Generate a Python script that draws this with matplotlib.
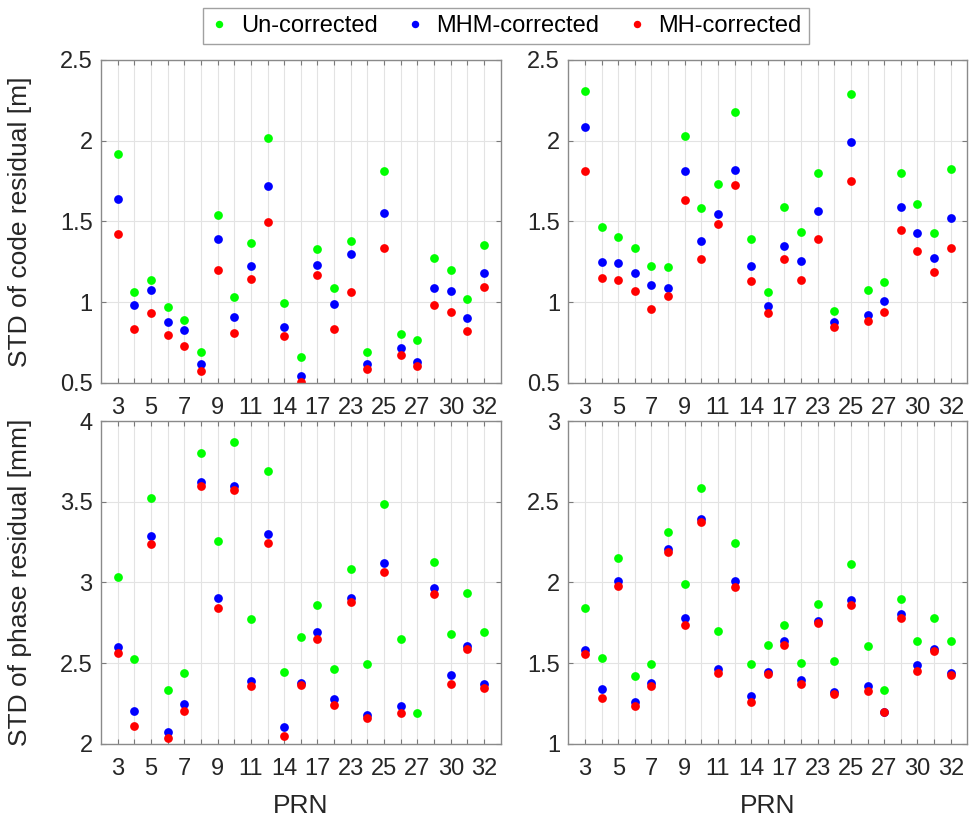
import matplotlib.pyplot as plt
import numpy as np
from matplotlib.ticker import FormatStrFormatter

plt.rcParams['font.family'] = ['Liberation Sans', 'DejaVu Sans']

# satellite list (only every other PRN is labelled on the axis)
prn = [3, 4, 5, 6, 7, 8, 9, 10, 11, 12, 14, 15, 17, 19, 23, 24, 25, 26, 27, 29, 30, 31, 32]
prn_labels = ['3', '5', '7', '9', '11', '14', '17', '23', '25', '27', '30', '32']

# code residual STD [m], panel 1
code1_un = [1.919, 1.064, 1.136, 0.967, 0.890, 0.692, 1.541, 1.033, 1.366, 2.017, 0.996, 0.659,
            1.331, 1.087, 1.376, 0.692, 1.812, 0.804, 0.767, 1.275, 1.198, 1.021, 1.353]
code1_mhm = [1.640, 0.979, 1.076, 0.874, 0.829, 0.614, 1.390, 0.907, 1.223, 1.721, 0.845, 0.541,
             1.231, 0.988, 1.295, 0.614, 1.550, 0.715, 0.626, 1.085, 1.068, 0.899, 1.182]
code1_mh = [1.419, 0.833, 0.932, 0.793, 0.727, 0.572, 1.200, 0.810, 1.145, 1.494, 0.791, 0.502,
            1.167, 0.831, 1.064, 0.583, 1.337, 0.669, 0.603, 0.983, 0.936, 0.818, 1.095]

# code residual STD [m], panel 2
code2_un = [2.310, 1.463, 1.403, 1.335, 1.221, 1.217, 2.031, 1.583, 1.729, 2.176, 1.390, 1.060,
            1.591, 1.434, 1.802, 0.944, 2.289, 1.074, 1.126, 1.802, 1.607, 1.430, 1.824]
code2_mhm = [2.087, 1.248, 1.242, 1.182, 1.105, 1.089, 1.810, 1.380, 1.545, 1.820, 1.225, 0.975,
             1.349, 1.256, 1.566, 0.874, 1.992, 0.917, 1.006, 1.587, 1.426, 1.275, 1.519]
code2_mh = [1.814, 1.147, 1.138, 1.070, 0.955, 1.037, 1.634, 1.269, 1.481, 1.727, 1.130, 0.932,
            1.264, 1.134, 1.390, 0.843, 1.748, 0.882, 0.936, 1.446, 1.318, 1.184, 1.337]

# phase residual STD [mm], panel 1
phase1_un = [3.034, 2.527, 3.523, 2.335, 2.438, 3.802, 3.257, 3.868, 2.775, 3.688, 2.448, 2.661,
             2.863, 2.467, 3.086, 2.496, 3.484, 2.651, 2.192, 3.127, 2.682, 2.933, 2.696]
phase1_mhm = [2.603, 2.205, 3.288, 2.074, 2.246, 3.622, 2.902, 3.598, 2.387, 3.301, 2.103, 2.380,
              2.692, 2.277, 2.902, 2.178, 3.121, 2.232, 1.900, 2.968, 2.430, 2.605, 2.370]
phase1_mh = [2.564, 2.112, 3.239, 2.039, 2.203, 3.598, 2.841, 3.571, 2.356, 3.243, 2.052, 2.364,
             2.653, 2.244, 2.878, 2.162, 3.063, 2.193, 1.880, 2.931, 2.374, 2.589, 2.347]

# phase residual STD [mm], panel 2
phase2_un = [1.843, 1.535, 2.152, 1.418, 1.496, 2.313, 1.989, 2.585, 1.698, 2.243, 1.498, 1.614,
             1.739, 1.502, 1.865, 1.515, 2.117, 1.607, 1.335, 1.900, 1.636, 1.783, 1.636]
phase2_mhm = [1.583, 1.341, 2.010, 1.261, 1.380, 2.208, 1.779, 2.393, 1.463, 2.010, 1.294, 1.446,
              1.638, 1.393, 1.764, 1.323, 1.894, 1.356, 1.200, 1.803, 1.486, 1.589, 1.440]
phase2_mh = [1.558, 1.283, 1.977, 1.238, 1.356, 2.187, 1.737, 2.375, 1.442, 1.970, 1.261, 1.432,
             1.614, 1.370, 1.746, 1.312, 1.859, 1.331, 1.200, 1.779, 1.453, 1.576, 1.424]

panels = [
    (code1_un, code1_mhm, code1_mh, (0.5, 2.5)),
    (code2_un, code2_mhm, code2_mh, (0.5, 2.5)),
    (phase1_un, phase1_mhm, phase1_mh, (2, 4)),
    (phase2_un, phase2_mhm, phase2_mh, (1, 3)),
]

fig = plt.figure(figsize=(9.69, 8.17), dpi=100)
rects = [
    [0.1042, 0.5316, 0.4125, 0.395],
    [0.5865, 0.5316, 0.4118, 0.395],
    [0.1042, 0.0894, 0.4125, 0.3953],
    [0.5865, 0.0894, 0.4118, 0.3953],
]

x = np.arange(1, len(prn) + 1)
axes = []
for i, (un, mhm, mh, ylim) in enumerate(panels):
    ax = fig.add_axes(rects[i])
    axes.append(ax)
    h1, = ax.plot(x, un, 'o', color=(0, 1, 0), ms=6.3, mec='none', label='Un-corrected')
    h2, = ax.plot(x, mhm, 'o', color=(0, 0, 1), ms=6.3, mec='none', label='MHM-corrected')
    h3, = ax.plot(x, mh, 'o', color=(1, 0, 0), ms=6.3, mec='none', label='MH-corrected')
    ax.set_xlim(0, len(prn) + 1)
    ax.set_ylim(*ylim)
    ax.set_yticks(np.arange(ylim[0], ylim[1] + 0.01, 0.5))
    ax.yaxis.set_major_formatter(FormatStrFormatter('%g'))
    ax.set_xticks(x)
    labels = [''] * len(x)
    labels[::2] = prn_labels
    ax.set_xticklabels(labels)
    ax.grid(True, color='#e3e3e3', lw=0.8)
    ax.set_axisbelow(True)
    ax.tick_params(direction='in', length=3.5, width=0.8, color='#7a7a7a',
                   top=True, right=True, labelsize=17, labelcolor='#262626')
    ax.tick_params(axis='x', pad=10)
    ax.tick_params(axis='y', pad=6)
    for s in ax.spines.values():
        s.set_color('#8a8a8a')
        s.set_linewidth(1.0)
    if i >= 2:
        ax.set_xlabel('PRN', fontsize=19, color='#262626', va='center')
        ax.xaxis.set_label_coords(0.5, -0.192)

axes[0].set_ylabel('STD of code residual [m]', fontsize=19, color='#262626', va='center')
axes[2].set_ylabel('STD of phase residual [mm]', fontsize=19, color='#262626', va='center')
axes[0].yaxis.set_label_coords(-0.203, 0.5)
axes[2].yaxis.set_label_coords(-0.203, 0.5)

fig.legend(handles=[h1, h2, h3], loc='center', bbox_to_anchor=(0.522, 0.968), ncol=3,
           fontsize=17, frameon=True, fancybox=False, edgecolor='#8a8a8a',
           handlelength=0.8, handletextpad=0.5, columnspacing=1.2, borderpad=0.3,
           markerscale=0.85)

fig.savefig('out.png', dpi=100)
